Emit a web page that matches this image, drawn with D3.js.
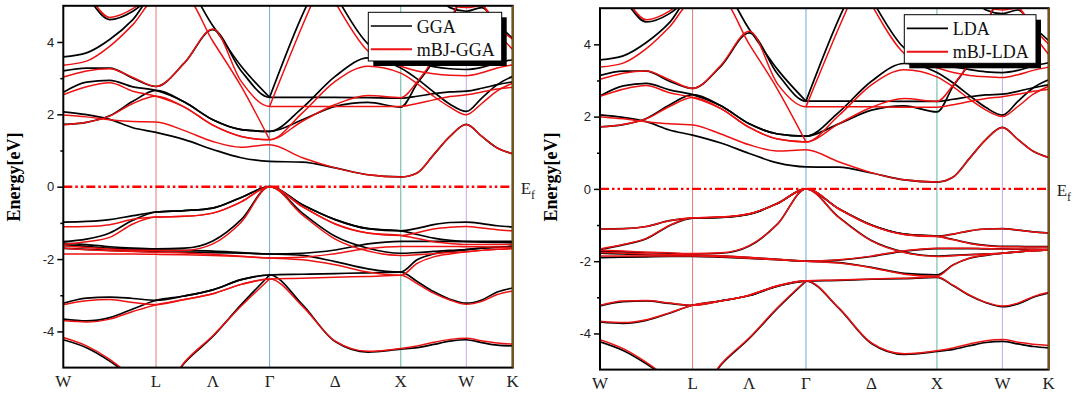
<!DOCTYPE html>
<html>
<head>
<meta charset="utf-8">
<script src="https://cdn.jsdelivr.net/npm/d3@7"></script>
<style>
  body { margin: 0; background: #fff; }
  svg { display: block; }
</style>
</head>
<body>
<svg id="chart" width="1083" height="396"></svg>
<script>
/*********************************
   BAND STRUCTURE DATA
 *********************************/
const N = null;

// High Symmetry Points (path length in units of 2pi/a)
const kLabels = ["W", "L", "Λ", "Γ", "Δ", "X", "W", "K"];
const kLabelPos = [0, 0.7071, 1.1401, 1.5731, 2.0731, 2.5731, 3.0731, 3.4267];
const kSymLines = [0.7071, 1.5731, 2.5731, 3.0731];
const kSymColors = ["#e47a7a", "#74a9d8", "#5cb8a0", "#c9a8e8"];
const kGrid = [0, 0.1768, 0.3536, 0.5303, 0.7071, 0.9236, 1.1401, 1.3566, 1.5731, 1.8231, 2.0731, 2.3231, 2.5731, 2.6981, 2.8231, 2.9481, 3.0731, 3.1910, 3.3088, 3.4267];

// Energy Ticks
const yTicks = [-4, -2, 0, 2, 4];
const yMinorTicks = [-3, -1, 1, 3];

// GGA Bands (eV at each kGrid point)
const ggaBands = [
  [-0.98,-0.96,-0.91,-0.80,-0.70, -0.66,-0.59,-0.30,0, -0.50,-0.91,-1.16,-1.22, -1.15,-1.05,-0.99,-0.98, -1.02,-1.08,-1.11],
  [-1.52,-1.45,-1.28,-0.93,-0.70, -0.66,-0.59,-0.30,0, -0.73,-1.37,-1.70,-1.84, -1.82,-1.79,-1.76,-1.74, -1.70,-1.67,-1.65],
  [-1.56,-1.60,-1.66,-1.70,-1.72, -1.70,-1.50,-0.91,0, -0.50,-0.91,-1.16,-1.22, -1.32,-1.42,-1.48,-1.51, -1.51,-1.51,-1.51],
  [-1.60,-1.65,-1.70,-1.73,-1.75, -1.76,-1.78,-1.82,-1.86, -1.84,-1.75,-1.58,-1.51, -1.51,-1.51,-1.51,-1.52, -1.53,-1.54,-1.55],
  [-1.70,-1.73,-1.76,-1.78,-1.80, -1.81,-1.82,-1.84,-1.86, -1.90,-2.07,-2.27,-2.36, -2.02,-1.86,-1.79,-1.74, -1.70,-1.67,-1.65],
  [-3.22,-3.08,-3.05,-3.09,-3.14, -3.02,-2.85,-2.57,-2.44, -2.42,-2.40,-2.38,-2.36, -2.62,-2.90,-3.11,-3.22, -3.13,-2.91,-2.80],
  [-3.66,-3.71,-3.62,-3.38,-3.14, -3.02,-2.85,-2.57,-2.44, -3.26,-4.28,-4.57,-4.49, -4.45,-4.36,-4.27,-4.23, -4.31,-4.38,-4.40],
  [-4.23,-4.45,-4.82,-5.30,-5.90, -4.87,-4.14,-3.26,-2.44, N,N,N,N, N,N,N,N, N,N,N],
  [2.07,1.99,1.86,1.63,1.50, 1.30,1.03,0.80,0.70, 0.68,0.52,0.33,0.27, 0.38,0.88,1.39,1.72, 1.39,1.07,0.91],
  [1.72,1.78,1.96,2.36,2.66, 2.34,1.85,1.58,1.53, 1.85,2.22,2.33,2.20, 2.85,3.50,4.55,5.50, N,N,N],
  [2.61,2.89,2.94,2.76,2.66, 2.34,1.85,1.58,1.53, 2.18,3.05,3.56,3.28, 2.98,2.62,2.28,2.08, 2.45,2.82,3.05],
  [3.20,3.28,3.28,3.00,2.77, 3.42,4.34,3.20,2.47, 2.47,2.47,2.46,2.45, 2.50,2.57,2.62,2.64, 2.72,2.82,2.90],
  [3.59,3.70,4.07,4.62,5.40, 5.50,4.45,3.33,2.47, N,N,N,N, N,N,N,N, N,N,N],
  [N,N,N,N,N, N,N,N,2.47, 4.75,6.50,N,N, N,N,N,N, N,N,N],
  [N,N,N,N,N, N,N,N,N, 6.80,5.30,3.95,3.55, 3.42,3.32,3.26,3.24, 3.30,3.42,3.51],
  [5.80,5.25,4.62,4.85,5.40, N,N,N,N, N,N,N,N, N,N,N,N, N,N,N],
  [N,N,N,N,N, N,N,N,N, N,N,N,N, N,5.60,4.95,4.85, 4.95,4.50,4.10]
];

// mBJ-GGA Bands
const mbjGgaBands = [
  [-1.11,-1.10,-1.05,-0.90,-0.84, -0.82,-0.73,-0.42,0, -0.55,-1.03,-1.28,-1.35, -1.27,-1.17,-1.12,-1.10, -1.14,-1.19,-1.22],
  [-1.59,-1.52,-1.40,-1.03,-0.84, -0.82,-0.73,-0.42,0, -0.78,-1.45,-1.78,-1.90, -1.88,-1.85,-1.82,-1.80, -1.76,-1.73,-1.71],
  [-1.64,-1.68,-1.72,-1.75,-1.76, -1.76,-1.58,-0.98,0, -0.55,-1.03,-1.28,-1.35, -1.43,-1.52,-1.57,-1.60, -1.60,-1.60,-1.60],
  [-1.70,-1.74,-1.77,-1.79,-1.81, -1.83,-1.87,-1.92,-1.97, -1.95,-1.85,-1.71,-1.65, -1.65,-1.65,-1.65,-1.66, -1.66,-1.67,-1.68],
  [-1.86,-1.86,-1.86,-1.86,-1.87, -1.88,-1.90,-1.93,-1.97, -2.02,-2.16,-2.36,-2.45, -2.12,-1.94,-1.86,-1.80, -1.76,-1.73,-1.71],
  [-3.26,-3.15,-3.12,-3.20,-3.26, -3.12,-2.96,-2.70,-2.55, -2.53,-2.50,-2.48,-2.45, -2.68,-2.94,-3.13,-3.25, -3.17,-2.98,-2.88],
  [-3.70,-3.74,-3.66,-3.45,-3.26, -3.12,-2.96,-2.70,-2.55, -3.30,-4.27,-4.55,-4.47, -4.40,-4.30,-4.22,-4.19, -4.26,-4.32,-4.35],
  [-4.17,-4.40,-4.77,-5.28,-5.90, -4.85,-4.12,-3.30,-2.55, N,N,N,N, N,N,N,N, N,N,N],
  [1.98,1.93,1.85,1.80,1.79, 1.55,1.25,1.09,1.16, 0.80,0.52,0.33,0.27, 0.38,0.88,1.39,1.72, 1.39,1.07,0.91],
  [1.71,1.78,1.95,2.30,2.50, 2.20,1.70,1.39,1.30, 1.81,2.27,2.52,2.46, 2.90,3.55,4.60,5.50, N,N,N],
  [2.54,2.76,2.87,2.64,2.50, 2.20,1.70,1.39,1.30, 2.04,2.91,3.33,3.14, 2.85,2.50,2.20,1.99, 2.30,2.65,2.86],
  [3.03,3.20,3.26,3.02,2.77, 3.42,4.36,2.91,2.22, 2.22,2.22,2.22,2.22, 2.30,2.40,2.49,2.54, 2.62,2.70,2.75],
  [3.36,3.47,3.88,4.48,5.20, 5.25,4.02,2.77,1.30, N,N,N,N, N,N,N,N, N,N,N],
  [N,N,N,N,N, N,N,N,2.22, 4.45,6.50,N,N, N,N,N,N, N,N,N],
  [N,N,N,N,N, N,N,N,N, 6.80,5.10,3.75,3.33, 3.20,3.12,3.08,3.07, 3.15,3.28,3.37],
  [5.60,5.30,4.68,4.92,5.45, N,N,N,N, N,N,N,N, N,N,N,N, N,N,N],
  [N,N,N,N,N, N,N,N,N, N,N,N,N, N,5.70,5.05,4.95, 5.00,4.45,4.07],
  [N,N,N,N,N, N,N,N,N, N,N,N,N, N,N,N,5.60, 5.10,4.30,3.79]
];

// LDA Bands
const ldaBands = [
  [-1.11,-1.10,-1.04,-0.88,-0.81, -0.79,-0.70,-0.40,0, -0.55,-1.00,-1.25,-1.31, -1.25,-1.16,-1.11,-1.10, -1.14,-1.19,-1.22],
  [-1.68,-1.55,-1.38,-1.02,-0.81, -0.79,-0.70,-0.40,0, -0.78,-1.43,-1.75,-1.86, -1.84,-1.82,-1.80,-1.78, -1.74,-1.71,-1.69],
  [-1.72,-1.74,-1.76,-1.78,-1.80, -1.78,-1.58,-0.97,0, -0.55,-1.00,-1.25,-1.31, -1.40,-1.50,-1.56,-1.59, -1.59,-1.60,-1.60],
  [-1.78,-1.80,-1.82,-1.83,-1.84, -1.86,-1.90,-1.95,-2.00, -1.97,-1.87,-1.72,-1.65, -1.65,-1.65,-1.66,-1.66, -1.67,-1.67,-1.68],
  [-1.90,-1.89,-1.88,-1.87,-1.87, -1.89,-1.92,-1.96,-2.00, -2.04,-2.17,-2.34,-2.38, -2.10,-1.92,-1.84,-1.78, -1.74,-1.71,-1.69],
  [-3.24,-3.12,-3.10,-3.17,-3.22, -3.10,-2.95,-2.69,-2.55, -2.53,-2.50,-2.48,-2.45, -2.68,-2.95,-3.15,-3.26, -3.18,-3.00,-2.88],
  [-3.68,-3.72,-3.64,-3.44,-3.22, -3.10,-2.95,-2.69,-2.55, -3.30,-4.28,-4.58,-4.50, -4.44,-4.34,-4.25,-4.22, -4.29,-4.36,-4.40],
  [-4.23,-4.47,-4.84,-5.30,-5.90, -4.87,-4.14,-3.30,-2.55, N,N,N,N, N,N,N,N, N,N,N],
  [2.05,1.98,1.86,1.63,1.49, 1.27,0.98,0.72,0.61, 0.60,0.44,0.25,0.19, 0.33,0.85,1.37,1.70, 1.37,1.04,0.87],
  [1.72,1.78,1.95,2.32,2.61, 2.30,1.80,1.52,1.46, 1.80,2.18,2.30,2.13, 2.85,3.50,4.55,5.50, N,N,N],
  [2.57,2.85,2.92,2.74,2.61, 2.30,1.80,1.52,1.46, 2.12,2.98,3.47,3.22, 2.93,2.58,2.25,2.04, 2.42,2.80,3.02],
  [3.14,3.26,3.26,2.98,2.78, 3.40,4.32,3.18,2.43, 2.43,2.43,2.42,2.42, 2.48,2.55,2.60,2.62, 2.70,2.80,2.88],
  [3.57,3.68,4.05,4.60,5.40, 5.50,4.42,3.30,2.43, N,N,N,N, N,N,N,N, N,N,N],
  [N,N,N,N,N, N,N,N,2.43, 4.70,6.50,N,N, N,N,N,N, N,N,N],
  [N,N,N,N,N, N,N,N,N, 6.80,5.25,3.90,3.50, 3.38,3.30,3.24,3.22, 3.28,3.40,3.49],
  [5.80,5.25,4.62,4.85,5.40, N,N,N,N, N,N,N,N, N,N,N,N, N,N,N],
  [N,N,N,N,N, N,N,N,N, N,N,N,N, N,5.60,4.95,4.85, 4.95,4.50,4.10]
];

// mBJ-LDA Bands
const mbjLdaBands = [
  [-1.11,-1.10,-1.04,-0.88,-0.80, -0.78,-0.69,-0.40,0, -0.55,-1.01,-1.26,-1.32, -1.25,-1.16,-1.11,-1.10, -1.14,-1.19,-1.22],
  [-1.66,-1.54,-1.37,-1.01,-0.80, -0.78,-0.69,-0.40,0, -0.79,-1.44,-1.76,-1.87, -1.85,-1.82,-1.80,-1.78, -1.74,-1.71,-1.69],
  [-1.70,-1.72,-1.75,-1.77,-1.79, -1.77,-1.57,-0.97,0, -0.55,-1.01,-1.26,-1.32, -1.41,-1.51,-1.57,-1.60, -1.60,-1.61,-1.61],
  [-1.76,-1.78,-1.80,-1.82,-1.83, -1.85,-1.89,-1.95,-2.00, -1.96,-1.86,-1.71,-1.64, -1.64,-1.64,-1.65,-1.66, -1.66,-1.67,-1.67],
  [-1.86,-1.86,-1.86,-1.86,-1.86, -1.88,-1.92,-1.96,-2.00, -2.05,-2.18,-2.36,-2.42, -2.10,-1.91,-1.83,-1.78, -1.74,-1.71,-1.69],
  [-3.22,-3.10,-3.09,-3.16,-3.22, -3.10,-2.94,-2.68,-2.54, -2.52,-2.49,-2.47,-2.44, -2.67,-2.94,-3.14,-3.24, -3.16,-2.98,-2.86],
  [-3.66,-3.70,-3.62,-3.43,-3.22, -3.10,-2.94,-2.68,-2.54, -3.29,-4.26,-4.56,-4.48, -4.40,-4.29,-4.20,-4.17, -4.24,-4.30,-4.33],
  [-4.17,-4.42,-4.80,-5.28,-5.90, -4.85,-4.12,-3.28,-2.54, N,N,N,N, N,N,N,N, N,N,N],
  [2.00,1.94,1.86,1.80,1.77, 1.52,1.22,1.05,1.08, 0.75,0.45,0.25,0.19, 0.33,0.85,1.37,1.70, 1.37,1.04,0.87],
  [1.71,1.78,1.94,2.28,2.53, 2.22,1.70,1.38,1.30, 1.80,2.26,2.50,2.42, 2.88,3.52,4.58,5.50, N,N,N],
  [2.56,2.76,2.86,2.66,2.53, 2.22,1.70,1.38,1.30, 2.03,2.88,3.30,3.10, 2.82,2.48,2.18,2.00, 2.28,2.62,2.84],
  [3.03,3.20,3.26,3.02,2.78, 3.42,4.36,2.90,2.27, 2.27,2.27,2.26,2.26, 2.33,2.42,2.50,2.55, 2.62,2.70,2.76],
  [3.37,3.48,3.88,4.48,5.20, 5.25,4.00,2.75,1.30, N,N,N,N, N,N,N,N, N,N,N],
  [N,N,N,N,N, N,N,N,2.27, 4.45,6.50,N,N, N,N,N,N, N,N,N],
  [N,N,N,N,N, N,N,N,N, 6.80,5.10,3.75,3.35, 3.22,3.14,3.10,3.08, 3.16,3.28,3.37],
  [5.60,5.30,4.68,4.92,5.45, N,N,N,N, N,N,N,N, N,N,N,N, N,N,N],
  [N,N,N,N,N, N,N,N,N, N,N,N,N, N,5.70,5.05,4.95, 5.00,4.45,4.00],
  [N,N,N,N,N, N,N,N,N, N,N,N,N, N,N,N,5.60, 5.10,4.30,3.72]
];

/*********************************
   DRAWING
 *********************************/
const svg = d3.select("#chart");
const serif = "'Liberation Serif', 'Times New Roman', serif";
const sans = "'Liberation Sans', Arial, sans-serif";

// Panel Layout
const panels = [
  { id: "p0", x0: 63.3, x1: 512.7, yTop: 5.8, yBot: 367.6, black: ggaBands, red: mbjGgaBands, names: ["GGA", "mBJ-GGA"], lx: 368.3, ly: 12.3, lw: 133.4, lh: 48.7, titleX: 20 },
  { id: "p1", x0: 600, x1: 1048.7, yTop: 8.2, yBot: 369.6, black: ldaBands, red: mbjLdaBands, names: ["LDA", "mBJ-LDA"], lx: 904.3, ly: 14.7, lw: 131.7, lh: 48.6, titleX: 557 }
];

panels.forEach((p) => drawPanel(p));

function drawPanel(p) {
  // Setup Scales
  let x = d3.scaleLinear().domain([0, kGrid[kGrid.length - 1]]).range([p.x0, p.x1]);
  let y = d3.scaleLinear().domain([-5, 5]).range([p.yBot, p.yTop]);

  // Clip Path For Plot Area
  svg.append("clipPath").attr("id", "clip" + p.id)
    .append("rect").attr("x", p.x0).attr("y", p.yTop).attr("width", p.x1 - p.x0).attr("height", p.yBot - p.yTop);

  let g = svg.append("g");
  let plot = g.append("g").attr("clip-path", "url(#clip" + p.id + ")");

  // High Symmetry Vertical Lines
  plot.selectAll("line.sym").data(kSymLines).enter().append("line")
    .attr("x1", (d) => x(d)).attr("x2", (d) => x(d))
    .attr("y1", p.yTop).attr("y2", p.yBot)
    .attr("stroke", (d, i) => kSymColors[i]).attr("stroke-width", 1);

  // Band Line Generator
  let line = d3.line()
    .defined((d) => d[1] != null)
    .x((d) => x(d[0])).y((d) => y(d[1]))
    .curve(d3.curveMonotoneX);

  // Draw Black Then Red Bands
  plot.selectAll("path.black").data(p.black).enter().append("path")
    .attr("d", (b) => line(kGrid.map((k, i) => [k, b[i]])))
    .attr("fill", "none").attr("stroke", "#000").attr("stroke-width", 1.7);
  plot.selectAll("path.red").data(p.red).enter().append("path")
    .attr("d", (b) => line(kGrid.map((k, i) => [k, b[i]])))
    .attr("fill", "none").attr("stroke", "#ee1111").attr("stroke-width", 1.5);

  // Fermi Level
  plot.append("line").attr("x1", p.x0).attr("x2", p.x1).attr("y1", y(0)).attr("y2", y(0))
    .attr("stroke", "#ff0000").attr("stroke-width", 2.4).attr("stroke-dasharray", "9,3,2.5,3,2.5,3");

  // Frame
  g.append("rect").attr("x", p.x0).attr("y", p.yTop).attr("width", p.x1 - p.x0).attr("height", p.yBot - p.yTop)
    .attr("fill", "none").attr("stroke", "#000").attr("stroke-width", 2);
  g.append("line").attr("x1", p.x1).attr("x2", p.x1).attr("y1", p.yTop).attr("y2", p.yBot)
    .attr("stroke", "#7a5416").attr("stroke-width", 2);

  // Y Axis Major & Minor Ticks
  let yAxis = d3.axisLeft(y).tickValues(yTicks).tickSize(6).tickSizeOuter(0).tickPadding(3).tickFormat((d) => String(d));
  let ya = g.append("g").attr("transform", "translate(" + p.x0 + ",0)").call(yAxis);
  ya.select(".domain").remove();
  ya.selectAll("line").attr("stroke", "#000").attr("stroke-width", 1.5);
  ya.selectAll("text").attr("font-family", sans).attr("font-size", 13).attr("fill", "#222");
  let yMinor = d3.axisLeft(y).tickValues(yMinorTicks).tickSize(3).tickSizeOuter(0).tickFormat("");
  let ym = g.append("g").attr("transform", "translate(" + p.x0 + ",0)").call(yMinor);
  ym.select(".domain").remove();
  ym.selectAll("line").attr("stroke", "#000").attr("stroke-width", 1.5);

  // K Point Labels
  g.selectAll("text.klabel").data(kLabels).enter().append("text")
    .attr("x", (d, i) => x(kLabelPos[i])).attr("y", p.yBot + 19)
    .attr("text-anchor", "middle").attr("font-family", serif).attr("font-size", 17).attr("fill", "#222")
    .text((d) => d);

  // Axis Title
  g.append("text").attr("transform", "translate(" + p.titleX + "," + 177 + ") rotate(-90)")
    .attr("text-anchor", "middle").attr("font-family", serif).attr("font-size", 18).attr("font-weight", "bold")
    .text("Energy[eV]");

  // Fermi Label
  let ef = g.append("text").attr("x", p.x1 + 8).attr("y", y(0) + 7).attr("font-family", serif).attr("font-size", 17).attr("fill", "#222");
  ef.append("tspan").text("E");
  ef.append("tspan").attr("dy", 5).attr("font-size", 12).text("f");

  // Legend
  g.append("rect").attr("x", p.lx + 5).attr("y", p.ly + 5).attr("width", p.lw).attr("height", p.lh).attr("fill", "#000");
  g.append("rect").attr("x", p.lx).attr("y", p.ly).attr("width", p.lw).attr("height", p.lh)
    .attr("fill", "#fff").attr("stroke", "#000").attr("stroke-width", 1);
  [["#000", 1.6], ["#ee1111", 2]].forEach((s, i) => {
    let ry = p.ly + 13.7 + i * 23.3;
    g.append("line").attr("x1", p.lx + 2.5).attr("x2", p.lx + 43.7).attr("y1", ry).attr("y2", ry)
      .attr("stroke", s[0]).attr("stroke-width", s[1]);
    g.append("text").attr("x", p.lx + 48.5).attr("y", ry + 6.7)
      .attr("font-family", serif).attr("font-size", 18).attr("fill", "#111").text(p.names[i]);
  });
}
</script>
</body>
</html>
